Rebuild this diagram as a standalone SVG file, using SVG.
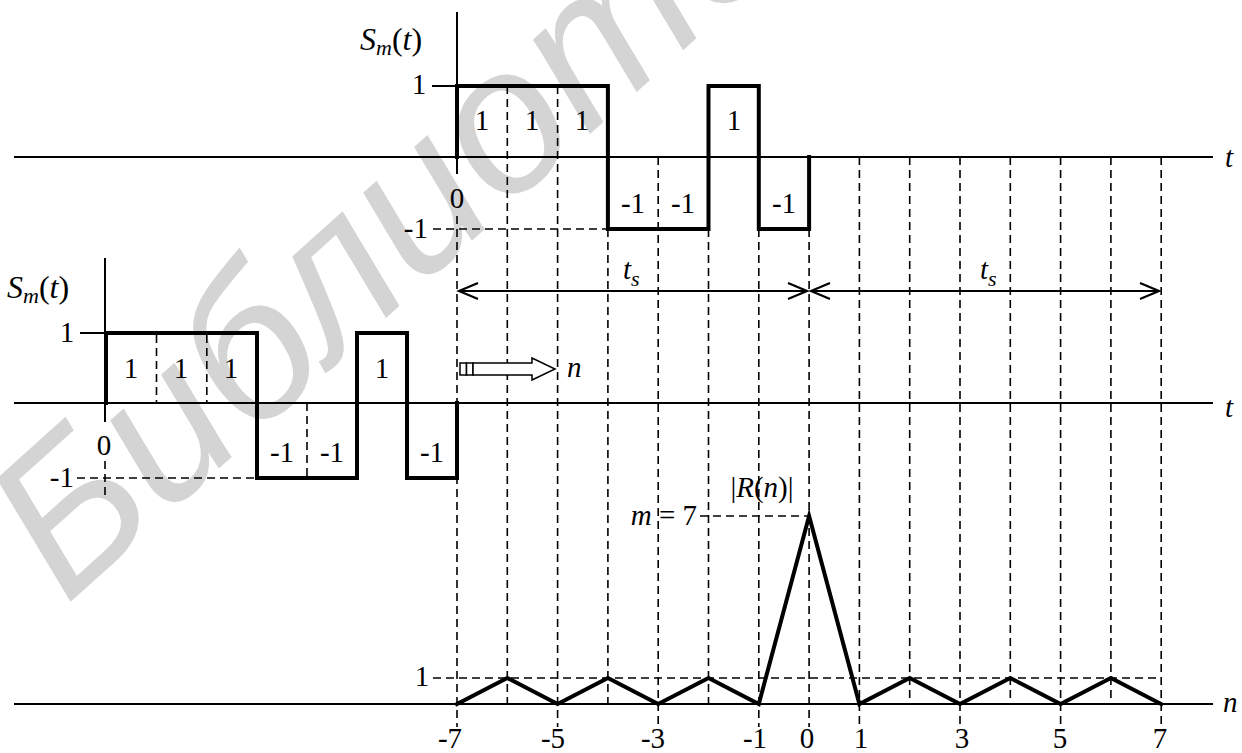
<svg xmlns="http://www.w3.org/2000/svg" width="1242" height="753" viewBox="0 0 1242 753">
<style>
.ax{stroke:#000;stroke-width:2;fill:none}
.sig{stroke:#000;stroke-width:4;fill:none;stroke-linejoin:miter;stroke-linecap:square}
.dash{stroke:#000;stroke-width:1.6;stroke-dasharray:8 5;fill:none}
.arr{stroke:#000;stroke-width:2.2;fill:none}
.lbl{font-family:'Liberation Serif','Times New Roman','DejaVu Serif',serif;font-size:29px;fill:#000}
.it{font-style:italic}
.wm{font-family:'Liberation Sans',Arial,sans-serif;font-style:italic;font-size:205px;fill:#d4d4d4}
</style>
<rect width="1242" height="753" fill="#fff"/>
<g id="watermark">
<text class="wm" transform="translate(66,606) rotate(-42)">Библиотека</text>
</g>
<g id="grid">
<line class="dash" x1="457" y1="216" x2="457" y2="727"/>
<line class="dash" x1="507.3" y1="86" x2="507.3" y2="704"/>
<line class="dash" x1="557.6" y1="86" x2="557.6" y2="727"/>
<line class="dash" x1="607.9" y1="229" x2="607.9" y2="704"/>
<line class="dash" x1="658.2" y1="157" x2="658.2" y2="727"/>
<line class="dash" x1="708.5" y1="229" x2="708.5" y2="704"/>
<line class="dash" x1="758.8" y1="229" x2="758.8" y2="727"/>
<line class="dash" x1="809.1" y1="229" x2="809.1" y2="727"/>
<line class="dash" x1="859.4" y1="157" x2="859.4" y2="727"/>
<line class="dash" x1="909.7" y1="157" x2="909.7" y2="704"/>
<line class="dash" x1="960" y1="157" x2="960" y2="727"/>
<line class="dash" x1="1010.3" y1="157" x2="1010.3" y2="704"/>
<line class="dash" x1="1060.6" y1="157" x2="1060.6" y2="727"/>
<line class="dash" x1="1110.9" y1="157" x2="1110.9" y2="704"/>
<line class="dash" x1="1161.2" y1="157" x2="1161.2" y2="727"/>
<line class="dash" x1="433" y1="229" x2="608" y2="229"/>
<line class="dash" x1="700" y1="516" x2="809" y2="516"/>
<line class="dash" x1="433" y1="678" x2="1161" y2="678"/>
</g>
<g id="top-signal">
<line class="ax" x1="14" y1="157" x2="1213" y2="157"/>
<line class="ax" x1="457" y1="12" x2="457" y2="174"/>
<line class="ax" x1="432" y1="86" x2="457" y2="86"/>
<polyline class="sig" points="457,157 457,86 607.9,86 607.9,229 708.5,229 708.5,86 758.8,86 758.8,229 809.1,229 809.1,157"/>
<text class="lbl" x="360" y="50"><tspan class="it" font-size="32">S</tspan><tspan class="it" font-size="22" dy="5">m</tspan><tspan font-size="32" dy="-5">(</tspan><tspan class="it" font-size="32">t</tspan><tspan font-size="32">)</tspan></text>
<text class="lbl" x="419" y="94" text-anchor="middle">1</text>
<text class="lbl" x="428" y="238" text-anchor="end">-1</text>
<text class="lbl" x="457" y="208" text-anchor="middle">0</text>
<text class="lbl" x="482" y="130" text-anchor="middle">1</text>
<text class="lbl" x="532" y="130" text-anchor="middle">1</text>
<text class="lbl" x="582" y="130" text-anchor="middle">1</text>
<text class="lbl" x="734" y="130" text-anchor="middle">1</text>
<text class="lbl" x="633" y="213" text-anchor="middle">-1</text>
<text class="lbl" x="683" y="213" text-anchor="middle">-1</text>
<text class="lbl" x="784" y="213" text-anchor="middle">-1</text>
<text class="lbl it" x="1225" y="167">t</text>
</g>
<g id="bottom-signal">
<line class="ax" x1="14" y1="403" x2="1213" y2="403"/>
<line class="ax" x1="105" y1="258" x2="105" y2="422"/>
<line class="ax" x1="80" y1="333" x2="105" y2="333"/>
<line class="dash" x1="105" y1="461" x2="105" y2="497"/>
<line class="dash" x1="77" y1="478" x2="257" y2="478"/>
<line class="dash" x1="156.5" y1="335" x2="156.5" y2="403"/>
<line class="dash" x1="206.8" y1="335" x2="206.8" y2="403"/>
<line class="dash" x1="307" y1="403" x2="307" y2="476"/>
<polyline class="sig" points="106,403 106,333 257,333 257,478 357,478 357,333 407,333 407,478 457,478 457,403"/>
<text class="lbl" x="7" y="298"><tspan class="it" font-size="32">S</tspan><tspan class="it" font-size="22" dy="5">m</tspan><tspan font-size="32" dy="-5">(</tspan><tspan class="it" font-size="32">t</tspan><tspan font-size="32">)</tspan></text>
<text class="lbl" x="67" y="342" text-anchor="middle">1</text>
<text class="lbl" x="74" y="487" text-anchor="end">-1</text>
<text class="lbl" x="104" y="455" text-anchor="middle">0</text>
<text class="lbl" x="131" y="378" text-anchor="middle">1</text>
<text class="lbl" x="181" y="378" text-anchor="middle">1</text>
<text class="lbl" x="231" y="378" text-anchor="middle">1</text>
<text class="lbl" x="382" y="378" text-anchor="middle">1</text>
<text class="lbl" x="282" y="462" text-anchor="middle">-1</text>
<text class="lbl" x="332" y="462" text-anchor="middle">-1</text>
<text class="lbl" x="432" y="462" text-anchor="middle">-1</text>
<text class="lbl it" x="1225" y="417">t</text>
</g>
<g id="shift-arrow">
<rect x="460" y="363" width="6.5" height="12" fill="#fff" stroke="#000" stroke-width="1.5"/>
<rect x="466.5" y="363" width="6.5" height="12" fill="#fff" stroke="#000" stroke-width="1.5"/>
<polygon points="473,363 532,363 532,358 555,369 532,380 532,375 473,375" fill="#fff" stroke="#000" stroke-width="1.5"/>
<text class="lbl it" x="567" y="377">n</text>
</g>
<g id="connectors">
<line class="arr" x1="459" y1="291" x2="807" y2="291"/>
<polyline class="arr" points="478,283 459,291 478,299"/>
<polyline class="arr" points="788,283 807,291 788,299"/>
<line class="arr" x1="811" y1="291" x2="1159" y2="291"/>
<polyline class="arr" points="830,283 811,291 830,299"/>
<polyline class="arr" points="1140,283 1159,291 1140,299"/>
</g>
<g id="ts-labels">
<text class="lbl" x="623" y="279"><tspan class="it">t</tspan><tspan class="it" font-size="22" dy="7">s</tspan></text>
<text class="lbl" x="980" y="279"><tspan class="it">t</tspan><tspan class="it" font-size="22" dy="7">s</tspan></text>
</g>
<g id="correlation">
<line class="ax" x1="14" y1="704" x2="1213" y2="704"/>
<polyline class="sig" stroke-linecap="round" points="457,704 507.3,678 557.6,704 607.9,678 658.2,704 708.5,678 758.8,704 809.1,516 859.4,704 909.7,678 960,704 1010.3,678 1060.6,704 1110.9,678 1161.2,704"/>
<text class="lbl" x="422" y="686" text-anchor="middle">1</text>
<text class="lbl" x="697" y="525" text-anchor="end"><tspan class="it">m</tspan> = 7</text>
<text class="lbl" x="762" y="497" text-anchor="middle" font-size="24">|<tspan class="it">R</tspan>(<tspan class="it">n</tspan>)|</text>
<text class="lbl" x="450" y="748" text-anchor="middle">-7</text>
<text class="lbl" x="553" y="748" text-anchor="middle">-5</text>
<text class="lbl" x="653" y="748" text-anchor="middle">-3</text>
<text class="lbl" x="755" y="748" text-anchor="middle">-1</text>
<text class="lbl" x="807" y="748" text-anchor="middle">0</text>
<text class="lbl" x="861" y="748" text-anchor="middle">1</text>
<text class="lbl" x="962" y="748" text-anchor="middle">3</text>
<text class="lbl" x="1060" y="748" text-anchor="middle">5</text>
<text class="lbl" x="1160" y="748" text-anchor="middle">7</text>
<text class="lbl it" x="1223" y="712">n</text>
</g>
</svg>
